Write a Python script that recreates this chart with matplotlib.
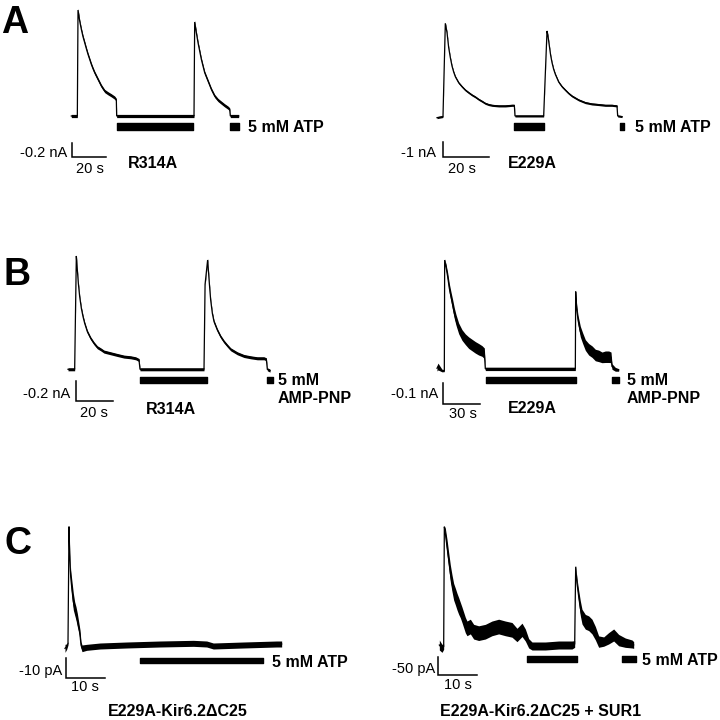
import matplotlib.pyplot as plt

plt.rcParams['font.family'] = ['Liberation Sans', 'DejaVu Sans']

# ---- data (time in s, current in nA or pA, inward = negative)
# A left: R314A, 5 mM ATP
aL_t = [-0.4, 3.11, 3.50, 4.47, 5.44, 6.41, 7.39, 8.36, 9.33, 10.30, 11.27, 12.24, 13.22,
        15.16, 17.11, 19.05, 20.99, 22.94, 24.88, 25.85, 26.05, 71.14, 71.53, 72.50, 73.47,
        74.44, 75.41, 76.38, 77.36, 79.30, 81.24, 83.19, 85.13, 87.07, 89.02, 90.96, 91.93,
        92.32, 97.18]
aL_i = [0, 0, -1.514, -1.357, -1.238, -1.133, -1.048, -0.962, -0.881, -0.810, -0.738, -0.676,
        -0.619, -0.524, -0.429, -0.357, -0.324, -0.295, -0.262, -0.229, 0, 0, -1.343, -1.190,
        -1.048, -0.929, -0.810, -0.714, -0.619, -0.500, -0.381, -0.286, -0.229, -0.190, -0.152,
        -0.119, -0.095, 0, 0]
aL_atp = [(26.2, 70.6), (92.1, 97.4)]

# A right: E229A, 5 mM ATP
aR_t = [0, 2.49, 2.63, 3.65, 4.39, 5.12, 5.85, 6.58, 7.31, 8.04, 9.50, 10.96, 12.43, 13.89,
        15.35, 16.81, 18.27, 19.74, 21.20, 22.66, 24.12, 27.05, 29.97, 32.89, 33.92, 34.21,
        46.78, 48.25, 48.68, 49.27, 49.85, 50.44, 51.17, 51.90, 53.36, 54.82, 56.29, 57.75,
        59.21, 60.67, 62.13, 63.60, 65.06, 67.98, 70.91, 73.83, 76.75, 78.95, 79.24, 81.14]
aR_i = [0.11, 0.04, 0, -6.18, -5.56, -4.56, -3.89, -3.33, -2.93, -2.62, -2.22, -1.96, -1.73,
        -1.56, -1.40, -1.27, -1.11, -0.98, -0.84, -0.76, -0.71, -0.67, -0.67, -0.71, -0.71, 0,
        0, -5.67, -5.33, -4.67, -4.04, -3.56, -3.11, -2.78, -2.27, -1.96, -1.73, -1.51,
        -1.33, -1.20, -1.07, -0.98, -0.89, -0.80, -0.76, -0.71, -0.71, -0.67, 0, 0.04]
aR_atp = [(33.8, 46.9), (80.3, 82.0)]

# B left: R314A, 5 mM AMP-PNP
bL_t = [0, 3.28, 3.64, 4.55, 5.10, 5.65, 6.38, 7.29, 8.20, 9.11, 10.56, 12.39, 14.21, 16.03,
        17.85, 19.67, 23.32, 26.96, 30.60, 34.25, 36.98, 38.80, 39.34, 74.32, 74.90,
        76.30, 77.23, 77.96, 78.87, 79.78, 81.60, 83.42, 85.25, 87.07, 88.89, 92.53, 96.17,
        99.82, 103.46, 107.10, 108.38, 108.93, 110.38]
bL_i = [0, 0, 0, -1.133, -0.993, -0.860, -0.727, -0.610, -0.527, -0.460, -0.377, -0.310,
        -0.260, -0.220, -0.200, -0.177, -0.160, -0.143, -0.127, -0.120, -0.110, -0.093, 0,
        0, -0.850, -1.093, -0.860, -0.693, -0.560, -0.477, -0.393, -0.327, -0.277,
        -0.237, -0.200, -0.160, -0.133, -0.120, -0.110, -0.110, -0.100, 0, 0.013]
bL_amp = [(39.3, 76.0), (108.7, 112.0)]

# B right: E229A, 5 mM AMP-PNP (noisy: mean and half-width of the noise band)
bR_t = [0, 0.80, 4.02, 5.89, 6.16, 7.23, 8.57, 9.91, 11.25, 12.59, 13.93, 15.27, 17.42,
        20.10, 22.78, 25.46, 28.14, 30.82, 33.49, 36.17, 38.05, 38.85, 111.2, 111.47, 112.27,
        113.34, 115.22, 117.1, 119.24, 121.92, 124.6, 127.28, 129.96, 132.64, 135.32, 138.0,
        139.87, 140.68, 143.35, 146.03]
bR_i = [-0.005, -0.013, 0.006, 0.006, -0.513, -0.482, -0.435, -0.380, -0.341, -0.302, -0.263,
        -0.232, -0.192, -0.161, -0.141, -0.125, -0.114, -0.103, -0.094, -0.086, -0.075, -0.002,
        -0.002, -0.365, -0.286, -0.232, -0.177, -0.146, -0.114, -0.094, -0.083, -0.067, -0.063,
        -0.056, -0.059, -0.059, -0.056, -0.013, 0, 0.003]
bR_n = [0.013, 0.016, 0.006, 0.005, 0.005, 0.013, 0.019, 0.022, 0.022, 0.025, 0.025, 0.025,
        0.025, 0.025, 0.025, 0.027, 0.027, 0.027, 0.027, 0.025, 0.025, 0.008, 0.008, 0.005,
        0.019, 0.022, 0.025, 0.025, 0.025, 0.027, 0.027, 0.027, 0.027, 0.025, 0.027, 0.027,
        0.025, 0.013, 0.009, 0.006]
bR_amp = [(39.4, 111.7), (140.7, 146.3)]

# C left: E229A-Kir6.2dC25, pA
cL_t = [0, 0.42, 0.76, 1.02, 1.19, 1.44, 1.78, 2.12, 2.46, 2.80, 3.14, 3.48, 3.82, 4.07,
        4.33, 5.51, 8.91, 15.69, 24.17, 32.65, 36.05, 37.74, 45.38, 53.86, 55.13]
cL_i = [1.17, 0.33, -1.33, -59.7, -46.3, -34.7, -28.0, -22.2, -18.8, -16.3, -13.0, -9.7,
        -5.5, -0.5, 1.17, 0.67, 0, -0.5, -1.0, -1.33, -1.0, 0, -0.5, -1.0, -1.0]
cL_n = [2.0, 1.33, 0.83, 0.33, 1.67, 3.33, 4.17, 4.17, 3.33, 3.33, 3.33, 2.5, 2.5, 1.67,
        1.67, 1.5, 1.5, 1.5, 1.5, 1.5, 1.5, 1.5, 1.5, 1.5, 1.5]
cL_atp = [(19.1, 50.4)]

# C right: E229A-Kir6.2dC25 + SUR1, pA
cR_t = [0.01, 0.69, 1.12, 1.29, 1.55, 1.97, 2.40, 2.83, 3.26, 3.68, 4.11, 4.54, 4.97, 5.39,
        5.82, 6.25, 6.68, 7.10, 7.96, 8.81, 10.09, 11.80, 13.51, 15.22, 16.93, 18.64, 19.92,
        21.21, 22.06, 22.92, 23.77, 27.19, 30.61, 34.03, 34.71, 34.97, 35.31, 35.74, 36.16,
        36.59, 37.44, 38.30, 39.15, 40.01, 40.86, 42.15, 43.43, 44.71, 45.99, 47.70, 49.41,
        49.84]
cR_i = [-2.7, 6.4, 1.8, -325, -307, -271, -235, -198, -171, -148, -135, -121, -109, -98,
        -85, -71, -57, -48, -53, -39, -35, -39, -48, -53, -48, -44, -30, -44, -30, -7.3, 0,
        0, -2.7, -2.7, -5.5, -216, -171, -135, -103, -80, -66, -62, -53, -35, -12, -12, -21,
        -30, -16, -9, -5.5, -2.7]
cR_n = [13.6, 10.9, 7.3, 2.7, 13.6, 20.0, 20.0, 22.7, 22.7, 22.7, 22.7, 22.7, 22.7, 21.0,
        21.0, 21.0, 21.0, 20.0, 20.0, 20.0, 20.0, 20.0, 20.0, 20.0, 20.0, 20.0, 18.2, 18.2,
        16.4, 12.7, 10.9, 10.9, 10.9, 10.9, 9.1, 2.7, 12.7, 16.4, 20.0, 20.0, 20.0, 20.0,
        20.0, 18.2, 15.5, 12.7, 15.5, 16.4, 15.5, 12.7, 10.9, 9.1]
cR_atp = [(22.4, 35.2), (46.9, 50.4)]

W = 720
fig = plt.figure(figsize=(7.2, 7.2), dpi=100)


def panel(x0, yb, pps, ppu):
    # x0, yb: pixel position of t=0 / zero current; pps px per s; ppu px per current unit
    ax = fig.add_axes([0, 0, 1, 1])
    ax.set_xlim(-x0 / pps, (W - x0) / pps)
    ax.set_ylim((W - yb) / ppu, -yb / ppu)
    ax.axis('off')
    ax.patch.set_alpha(0)
    ax.ppu = ppu
    return ax


def trace(ax, t, i, noise=None, band_px=None, lw=0.9):
    if band_px is not None:
        noise = [band_px / ax.ppu for _ in t]
    if noise is not None:
        lo = [a - n for a, n in zip(i, noise)]
        hi = [a + n for a, n in zip(i, noise)]
        ax.fill_between(t, lo, hi, color='k', lw=0)
    ax.plot(t, i, color='k', lw=lw, solid_joinstyle='miter')


def bars(ax, spans, top_px, bot_px):
    ax.broken_barh([(a, b - a) for a, b in spans],
                   (top_px / ax.ppu, (bot_px - top_px) / ax.ppu), color='k')


def scalebar(ax, t, i, dt, di):
    ax.plot([t, t, t + dt], [i - di, i, i], color='k', lw=1.1, solid_joinstyle='miter')


def txt(x, y, s, bold=False, ha='left', size=None):
    fig.text(x / W, 1 - y / W, s, ha=ha, va='baseline',
             fontsize=size or (11.5 if bold else 10.5),
             fontweight='bold' if bold else 'normal')


# A left
ax = panel(72, 116, 1.715, 70)
trace(ax, aL_t, aL_i, band_px=1.6)
bars(ax, aL_atp, 7, 14)
scalebar(ax, 0, 0.586, 20, 0.2)

# A right
ax = panel(437, 116, 2.28, 15)
trace(ax, aR_t, aR_i, band_px=1.0)
bars(ax, aR_atp, 7, 13.5)
scalebar(ax, 2.6, 2.73, 20, 1)

# B left
ax = panel(68, 369.3, 1.83, 100)
trace(ax, bL_t, bL_i, band_px=1.5)
bars(ax, bL_amp, 7.4, 14)
scalebar(ax, 4.4, 0.314, 20, 0.2)

# B right
ax = panel(437, 369.3, 1.244, 213)
trace(ax, bR_t, bR_i, bR_n)
bars(ax, bR_amp, 7.7, 13.7)
scalebar(ax, 4.6, 0.163, 30, 0.1)

# C left
ax = panel(65, 646, 3.93, 2)
trace(ax, cL_t, cL_i, cL_n)
bars(ax, cL_atp, 11.7, 17.3)
scalebar(ax, 0.18, 16.2, 10, 10)

# C right
ax = panel(439.3, 646, 3.9, 0.367)
trace(ax, cR_t, cR_i, cR_n)
bars(ax, cR_atp, 9.7, 15.7)
scalebar(ax, -0.4, 79, 10, 50)

# panel letters
txt(1, 33, 'A', bold=True, size=27)
txt(4, 285, 'B', bold=True, size=27)
txt(5, 554, 'C', bold=True, size=27)

# A labels
txt(248, 132, '5 mM ATP', bold=True)
txt(67, 156.7, '-0.2 nA', ha='right')
txt(89.5, 173, '20 s', ha='center')
txt(128, 167.7, 'R314A', bold=True)
txt(635, 132, '5 mM ATP', bold=True)
txt(436, 156.7, '-1 nA', ha='right')
txt(462, 173, '20 s', ha='center')
txt(508, 167.7, 'E229A', bold=True)

# B labels
txt(278, 385, '5 mM', bold=True)
txt(278, 403.3, 'AMP-PNP', bold=True)
txt(70, 398.3, '-0.2 nA', ha='right')
txt(94, 416.7, '20 s', ha='center')
txt(146, 414, 'R314A', bold=True)
txt(627, 385, '5 mM', bold=True)
txt(627, 403.3, 'AMP-PNP', bold=True)
txt(438, 398.3, '-0.1 nA', ha='right')
txt(462.5, 418.3, '30 s', ha='center')
txt(508, 413.3, 'E229A', bold=True)

# C labels
txt(272, 666.7, '5 mM ATP', bold=True)
txt(62, 675, '-10 pA', ha='right')
txt(85, 690.7, '10 s', ha='center')
txt(178, 716, 'E229A-Kir6.2\u0394C25', bold=True, ha='center')
txt(641.7, 665, '5 mM ATP', bold=True)
txt(435, 673.3, '-50 pA', ha='right')
txt(457.5, 689, '10 s', ha='center')
txt(541, 716, 'E229A-Kir6.2\u0394C25 + SUR1', bold=True, ha='center')

fig.savefig('out.png', dpi=100)
